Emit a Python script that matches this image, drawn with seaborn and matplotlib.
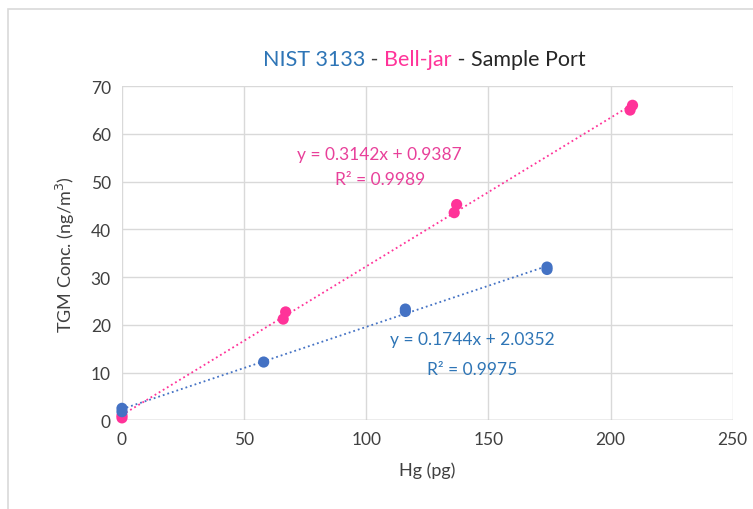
import numpy as np
import pandas as pd
import matplotlib.pyplot as plt
import seaborn as sns
from matplotlib.offsetbox import TextArea, HPacker, AnchoredOffsetbox
from matplotlib.patches import Rectangle

# NIST 3133 standard additions
nist_hg = [0, 0, 58, 116, 116, 174, 174]
nist_tgm = [1.8, 2.5, 12.2, 22.8, 23.3, 31.6, 32.1]

# Bell-jar additions
bell_hg = [0, 0, 66, 67, 136, 137, 208, 209]
bell_tgm = [0.5, 1.0, 21.2, 22.7, 43.5, 45.2, 65.0, 66.0]

nist_eq = ["y = 0.1744x + 2.0352", "R² = 0.9975"]
bell_eq = ["y = 0.3142x + 0.9387", "R² = 0.9989"]

x_ticks = [0, 50, 100, 150, 200, 250]
y_ticks = [0, 10, 20, 30, 40, 50, 60, 70]

BLUE = "#4472c4"
BLUE_TXT = "#2e75b6"
PINK = "#ff3399"
PINK_TXT = "#e8409a"


def plot_chart():
    sns.set_theme(style="white")
    plt.rcParams['font.family'] = ['Lato', 'DejaVu Sans']

    fig = plt.figure(figsize=(7.53, 5.10), dpi=100)
    ax = fig.add_axes([0.162, 0.174, 0.811, 0.655])

    nist = pd.DataFrame({"hg": nist_hg, "tgm": nist_tgm})
    bell = pd.DataFrame({"hg": bell_hg, "tgm": bell_tgm})

    sns.regplot(data=bell, x="hg", y="tgm", scatter=False, ci=None, truncate=True,
                color=PINK, line_kws={"linestyle": ":", "linewidth": 1.3}, ax=ax)
    sns.regplot(data=nist, x="hg", y="tgm", scatter=False, ci=None, truncate=True,
                color=BLUE, line_kws={"linestyle": ":", "linewidth": 1.3}, ax=ax)
    sns.scatterplot(data=bell, x="hg", y="tgm", color=PINK, s=65, edgecolor="none",
                    ax=ax, zorder=4, clip_on=False)
    sns.scatterplot(data=nist, x="hg", y="tgm", color=BLUE, s=65, edgecolor="none",
                    ax=ax, zorder=5, clip_on=False)

    ax.set_xlim(0, 250)
    ax.set_ylim(0, 70)
    ax.set_xticks(x_ticks)
    ax.set_yticks(y_ticks)
    ax.tick_params(labelsize=12.5, colors="#404040", length=0, pad=8)
    ax.grid(True, color="#d9d9d9", linewidth=1)
    for s in ax.spines.values():
        s.set_visible(False)
    ax.axhline(0, color="#bfbfbf", linewidth=1, zorder=1)

    ax.set_xlabel("Hg (pg)", fontsize=13, color="#404040", labelpad=10)
    ax.set_ylabel("TGM Conc. (ng/m$^3$)", fontsize=13, color="#404040", labelpad=10)

    ax.text(105.5, 55.8, bell_eq[0], color=PINK_TXT, fontsize=12.5, ha="center", va="center")
    ax.text(105.5, 50.5, bell_eq[1], color=PINK_TXT, fontsize=12.5, ha="center", va="center")
    ax.text(143.5, 17.0, nist_eq[0], color=BLUE_TXT, fontsize=12.5, ha="center", va="center")
    ax.text(143.5, 10.7, nist_eq[1], color=BLUE_TXT, fontsize=12.5, ha="center", va="center")

    # multi-coloured title
    parts = [("NIST 3133", BLUE_TXT), (" - ", "#404040"), ("Bell-jar", PINK), (" - Sample Port", "#262626")]
    boxes = [TextArea(t, textprops=dict(color=c, fontsize=15.5)) for t, c in parts]
    packer = HPacker(children=boxes, align="baseline", pad=0, sep=0)
    title = AnchoredOffsetbox(loc="center", child=packer, pad=0, frameon=False,
                              bbox_to_anchor=(0.563, 0.882), bbox_transform=fig.transFigure,
                              borderpad=0)
    fig.add_artist(title)

    fig.add_artist(Rectangle((0.011, -0.02), 1.0, 1.0, transform=fig.transFigure,
                             fill=False, edgecolor="#d9d9d9", linewidth=1.2))

    fig.savefig("out.png", dpi=100)


if __name__ == "__main__":
    plot_chart()
